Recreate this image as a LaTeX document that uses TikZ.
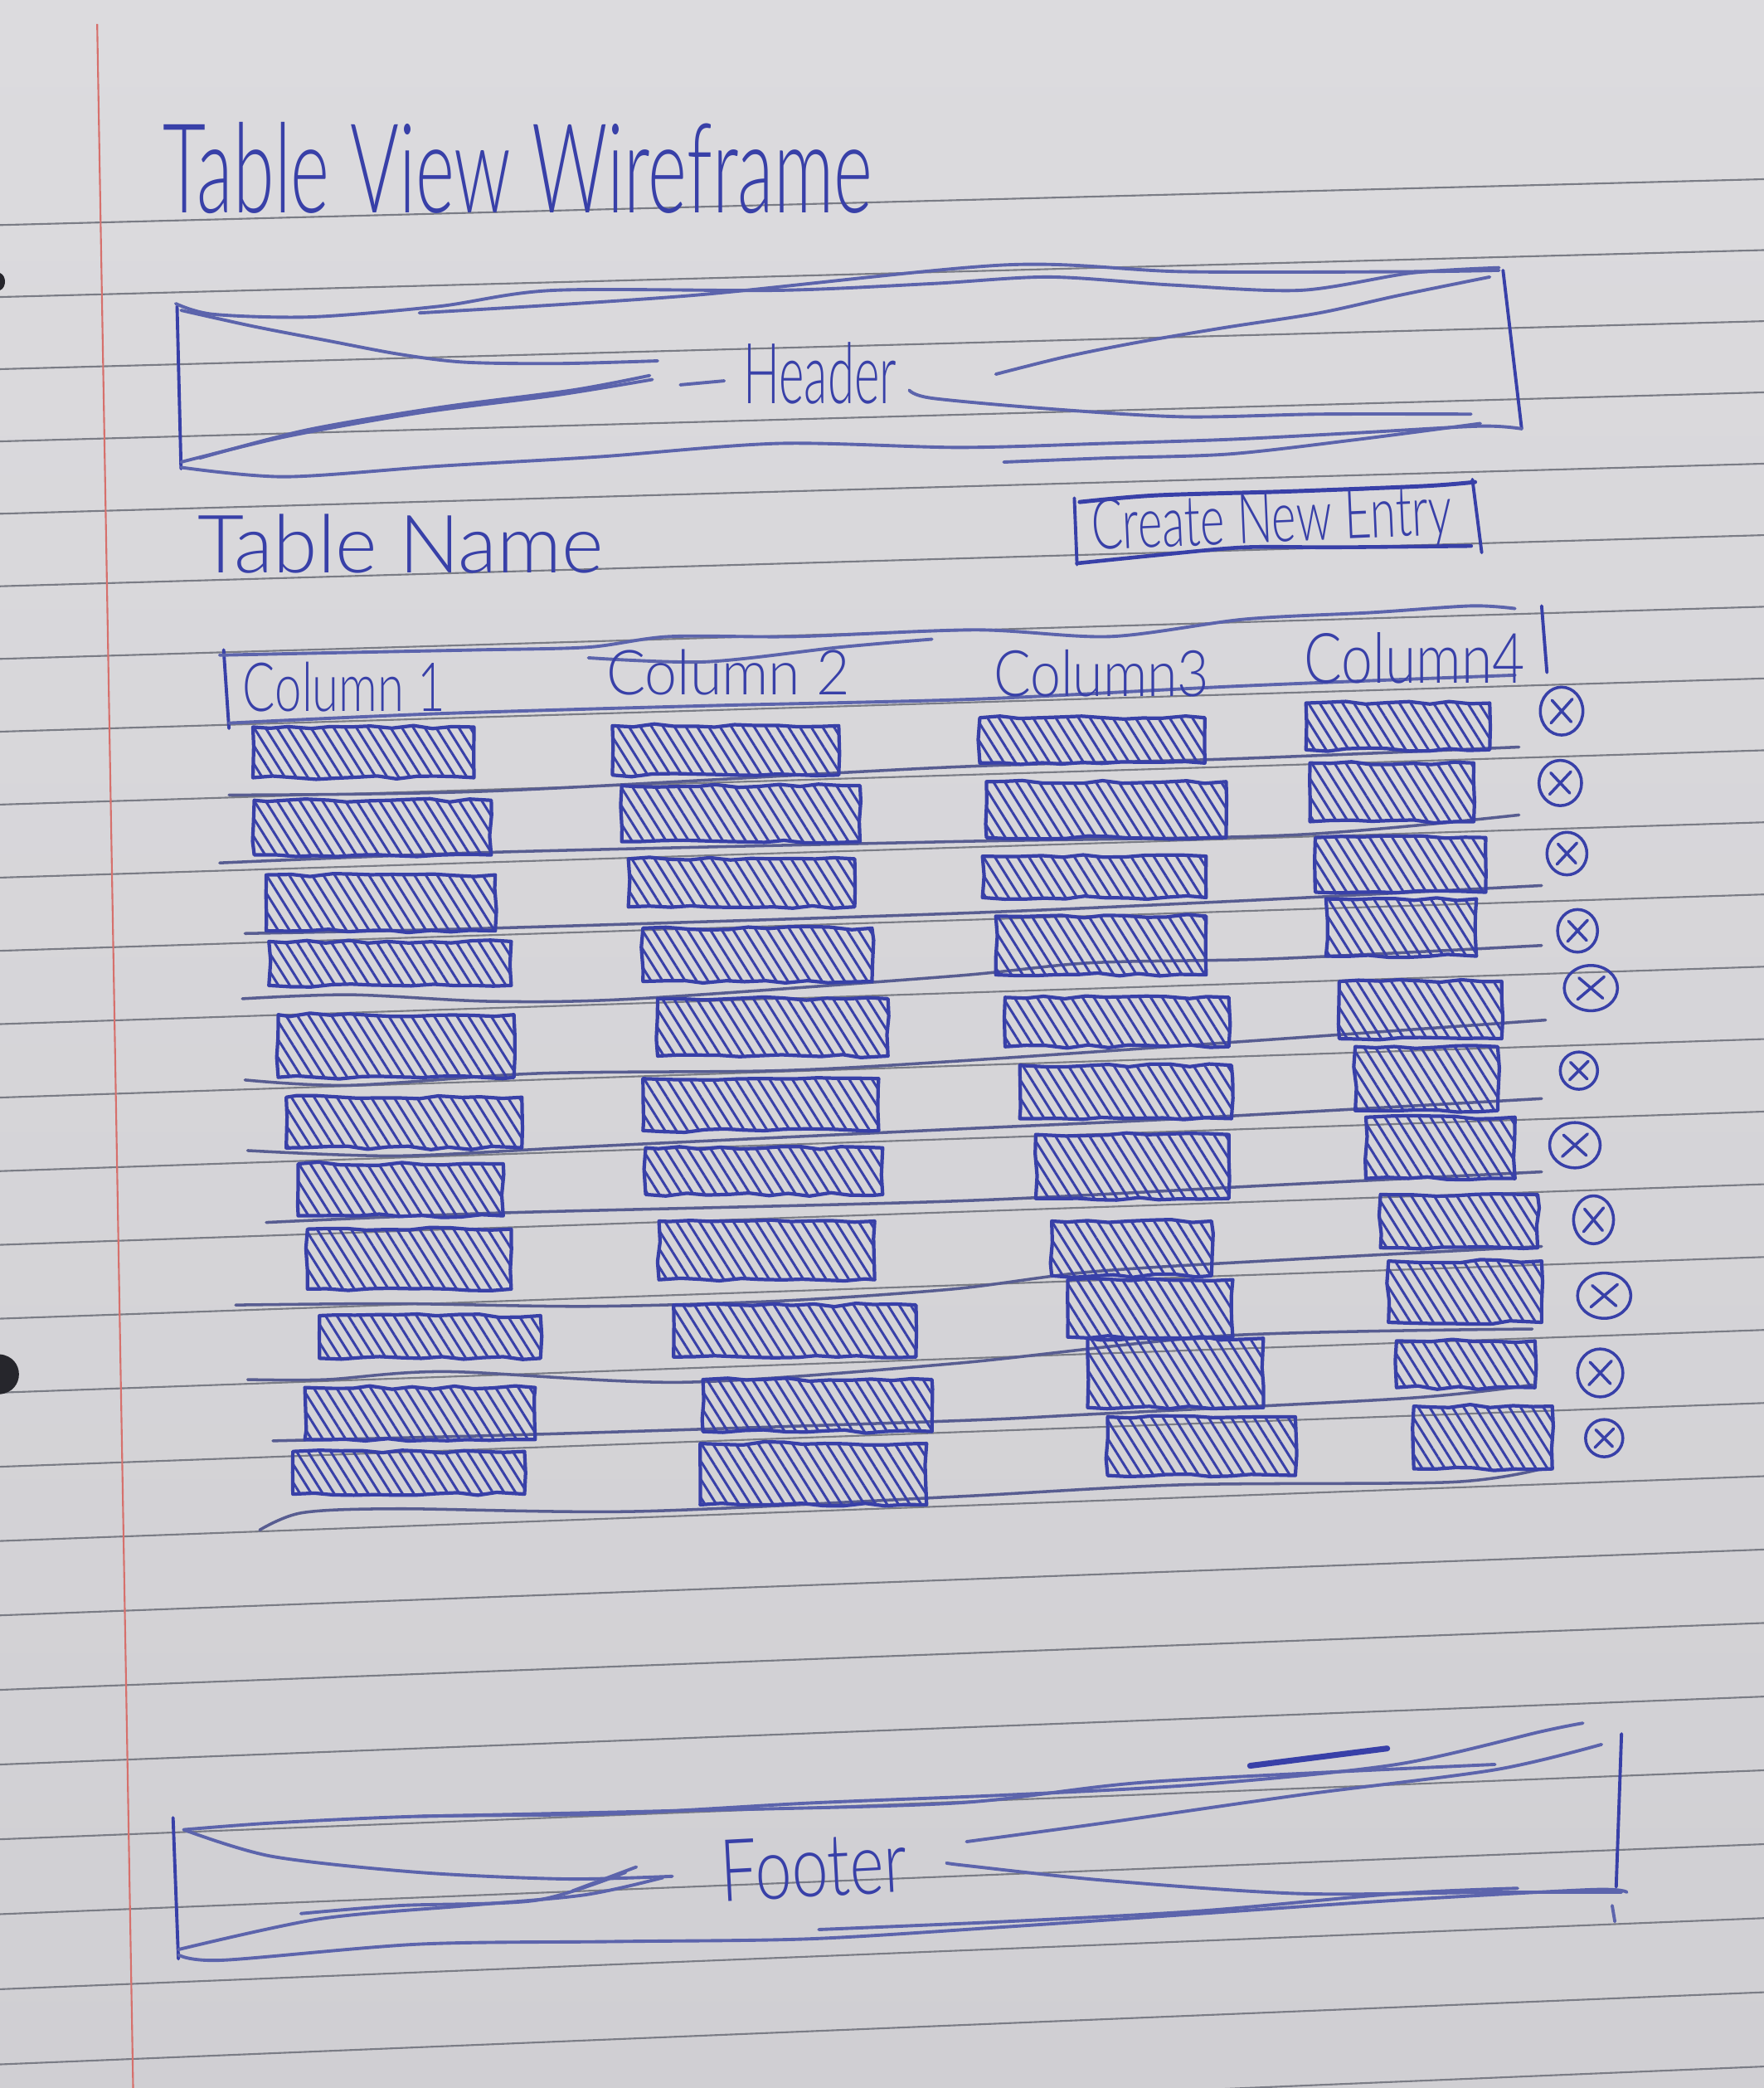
\documentclass[tikz,border=0pt]{standalone}
\usepackage{fontspec}
\usepackage{graphicx}
\IfFontExistsTF{Lato Light}
  {\newfontfamily\hand{Lato Light}}
  {\IfFontExistsTF{Poppins Light}{\newfontfamily\hand{Poppins Light}}{\newfontfamily\hand{Carlito}}}
\usetikzlibrary{patterns.meta,decorations.pathmorphing}
\definecolor{papertop}{RGB}{220,219,222}
\definecolor{paperbot}{RGB}{208,207,211}
\definecolor{rulec}{RGB}{122,124,133}
\definecolor{marginc}{RGB}{214,112,108}
\definecolor{inkc}{RGB}{56,64,168}
\definecolor{inklc}{RGB}{92,100,172}
\definecolor{sepc}{RGB}{88,93,145}
\definecolor{holec}{RGB}{38,38,44}
\newlength\ulen
\setlength\ulen{0.16mm}
\tikzset{
  ruleline/.style={draw=rulec, line width=0.6pt},
  marginline/.style={draw=marginc, line width=0.6pt},
  pen/.style={draw=inkc, line width=1.1pt, line cap=round, line join=round},
  penlight/.style={draw=inklc, line width=1.1pt, line cap=round, line join=round},
  sepline/.style={draw=sepc, line width=1pt, line cap=round, line join=round},
  hatchbar/.style={pen, line width=1.2pt,
    pattern={Lines[angle=-58, distance=3.3pt, line width=0.85pt]}, pattern color=inkc,
    decorate, decoration={random steps, segment length=7pt, amplitude=0.6pt}},
  label/.style={anchor=base west, inner sep=0pt, text=inkc},
  delmark/.style={pen, line width=1pt},
}
% one hatched placeholder bar of the table
\newcommand\databar[4]{\path[hatchbar] (#1,#2) rectangle (#3,#4);}
% handwritten text squeezed to a given width and height
\newcommand\hw[3]{\resizebox{#1\ulen}{#2\ulen}{\hand #3}}

\begin{document}
\begin{tikzpicture}[x=0.16mm, y=-0.16mm]
\pgfmathsetseed{12}
\useasboundingbox (0,0) rectangle (1325,1568);

% ---- sheet of ruled paper ----
\shade[top color=papertop, bottom color=paperbot] (0,0) rectangle (1325,1568);
\foreach \k in {0,...,26}{
  \pgfmathsetmacro\yl{169+54*\k+0.05*\k*\k}
  \pgfmathsetmacro\yr{\yl-(0.026+0.0006*\k)*1325}
  \draw[ruleline] (0,\yl) -- (1325,\yr);
}
\draw[marginline] (73,18) -- (100,1568);
\fill[holec] (0,205) .. controls (5,207) and (5,216) .. (0,218) -- cycle;
\fill[holec] (0,1017) .. controls (19,1019) and (19,1045) .. (0,1047) -- cycle;

% ---- title ----
\node[label] (title) at (122,160) {\hw{533}{68}{Table View Wireframe}};

% ---- header block ----
\draw[pen] (133,230) -- (136,352);
\draw[pen] (1129,203) -- (1143,322);
\draw[penlight] plot[smooth] coordinates {(132,228) (160,236) (234,238) (330,230) (416,218) (585,218) (700,213) (788,208) (880,214) (977,218) (1060,205) (1126,201)};
\draw[penlight] plot[smooth] coordinates {(315,235) (518,222) (754,199) (889,204) (1058,204) (1126,203)};
\draw[penlight] plot[smooth] coordinates {(136,351) (214,358) (330,350) (450,343) (585,333) (720,336) (830,333) (923,330) (1020,325) (1112,320) (1143,322)};
\draw[penlight] plot[smooth] coordinates {(754,347) (830,344) (923,341) (1020,330) (1112,318)};
\draw[penlight] plot[smooth] coordinates {(136,233) (190,245) (247,256) (300,266) (349,272) (420,273) (494,271)};
\draw[penlight] plot[smooth] coordinates {(136,347) (214,328) (315,310) (416,297) (490,285)};
\draw[penlight] plot[smooth] coordinates {(150,344) (230,323) (330,306) (430,293) (488,282)};
\draw[penlight] (511,289) -- (544,286);
\draw[penlight] plot[smooth] coordinates {(1119,208) (1050,222) (991,235) (920,246) (855,257) (800,268) (748,281)};
\draw[penlight] plot[smooth] coordinates {(683,293) (700,299) (788,307) (889,313) (991,311) (1105,311)};
\node[label] (headerlabel) at (558,303) {\hw{115}{46}{Header}};

% ---- table name and button ----
\node[label] (tablename) at (148,430) {\hw{305}{44}{Table Name}};
\draw[pen] (807,374) -- (809,424);
\draw[pen] (1106,360) -- (1113,415);
\draw[pen, line width=1.4pt] plot[smooth] coordinates {(811,377) (868,372) (969,369) (1070,365) (1108,362)};
\draw[pen, line width=1.3pt] plot[smooth] coordinates {(809,423) (868,417) (935,411) (1003,411) (1105,410)};
\node[label, rotate=2.5] (newentry) at (820,413) {\hw{271}{38}{Create New Entry}};

% ---- column header row ----
\draw[pen] (168,488) -- (172,547);
\draw[pen] (1158,455) -- (1162,505);
\draw[penlight] plot[smooth] coordinates {(165,492) (260,490) (360,488) (442,486) (503,478) (598,478) (733,473) (834,478) (935,465) (1030,460) (1105,455) (1138,457)};
\draw[penlight] plot[smooth] coordinates {(442,494) (530,497) (631,486) (700,480)};
\draw[penlight] plot[smooth] coordinates {(172,543) (327,536) (530,530) (733,525) (935,515) (1138,507)};
\node[label] (col1) at (182,534) {\hw{152}{37}{Column 1}};
\node[label] (col2) at (455,522) {\hw{183}{34}{Column 2}};
\node[label] (col3) at (746,523) {\hw{162}{35}{Column3}};
\node[label] (col4) at (979,513) {\hw{166}{38}{Column4}};

% ---- row separators ----
\draw[sepline] plot[smooth] coordinates {(172,597) (370,594) (716,576) (921,570) (1141,561)};
\draw[sepline] plot[smooth] coordinates {(165,648) (370,640) (716,632) (972,627) (1141,612)};
\draw[sepline] plot[smooth] coordinates {(184,701) (370,697) (716,686) (921,677) (1158,665)};
\draw[sepline] plot[smooth] coordinates {(182,750) (263,747) (370,752) (478,750) (716,733) (820,723) (956,720) (1158,710)};
\draw[sepline] plot[smooth] coordinates {(184,811) (263,815) (406,806) (585,804) (716,797) (921,783) (1161,766)};
\draw[sepline] plot[smooth] coordinates {(186,864) (299,868) (442,861) (716,848) (888,840) (1158,825)};
\draw[sepline] plot[smooth] coordinates {(200,918) (370,911) (716,902) (956,890) (1158,880)};
\draw[sepline] plot[smooth] coordinates {(177,980) (299,979) (442,981) (585,977) (716,968) (820,955) (966,946) (1158,936)};
\draw[sepline] plot[smooth] coordinates {(186,1036) (245,1036) (335,1030) (513,1038) (716,1024) (921,1003) (1151,998)};
\draw[sepline] plot[smooth] coordinates {(205,1082) (406,1077) (716,1067) (820,1062) (1057,1050) (1151,1040)};
\draw[sepline] plot[smooth] coordinates {(195,1149) (227,1136) (299,1133) (478,1135) (716,1124) (888,1115) (1090,1113) (1158,1103)};

% ---- hatched data bars ----
\foreach \a/\b/\c/\d in {
  190/546/356/584, 191/601/369/642, 200/657/372/699, 202/707/384/740,
  209/762/386/809, 215/824/392/862, 224/874/378/913, 231/923/384/968,
  240/988/406/1020, 229/1042/402/1081, 220/1090/394/1122,
  460/545/630/582, 467/590/646/632, 472/645/642/681, 483/697/655/737,
  494/750/667/793, 483/810/660/849, 485/862/663/897, 495/917/657/961,
  506/980/688/1019, 528/1036/700/1075, 526/1084/696/1130,
  736/539/905/573, 741/587/921/629, 738/643/906/674, 748/688/906/732,
  755/749/923/786, 766/800/925/840, 778/852/923/900, 790/917/910/958,
  802/961/926/1004, 817/1005/949/1057, 832/1064/973/1108,
  981/528/1119/563, 984/573/1107/617, 988/629/1116/670, 996/675/1109/718,
  1006/737/1128/780, 1018/786/1125/834, 1026/839/1138/885, 1037/897/1155/937,
  1043/947/1158/993, 1049/1007/1153/1042, 1062/1056/1166/1103}
  {\databar{\a}{\b}{\c}{\d}}

% ---- delete marks ----
\foreach \cx/\cy/\rx/\ry [count=\i] in {
  1173/534/16/18, 1172/588/16/17, 1177/641/15/16, 1185/699/15/16,
  1195/742/20/17, 1186/804/14/14, 1183/860/19/17, 1197/916/15/18,
  1205/973/20/17, 1202/1031/17/18, 1205/1080/14/14}{
  \coordinate (del\i) at (\cx,\cy);
  \draw[delmark] (del\i) ellipse [x radius=\rx, y radius=\ry];
  \draw[delmark] ([shift={(-0.5*\rx,0.5*\ry)}]del\i) -- ([shift={(0.5*\rx,-0.5*\ry)}]del\i);
  \draw[delmark] ([shift={(-0.45*\rx,-0.45*\ry)}]del\i) -- ([shift={(0.45*\rx,0.45*\ry)}]del\i);
}

% ---- footer block ----
\draw[pen] (130,1365) -- (134,1471);
\draw[pen] (1218,1302) -- (1214,1417);
\draw[penlight] (1211,1431) -- (1213,1443);
\draw[penlight] plot[smooth] coordinates {(138,1374) (204,1369) (314,1364) (461,1362) (608,1354) (755,1348) (902,1340) (1049,1325) (1159,1300) (1189,1294)};
\draw[penlight] plot[smooth] coordinates {(314,1364) (498,1360) (718,1354) (865,1338) (1123,1325)};
\draw[pen, line width=2pt] (939,1326) -- (1042,1313);
\draw[penlight] plot[smooth] coordinates {(134,1468) (167,1472) (314,1460) (461,1458) (608,1456) (755,1447) (902,1437) (1049,1427) (1196,1419) (1222,1421)};
\draw[penlight] plot[smooth] coordinates {(615,1449) (755,1443) (902,1435) (1049,1422) (1140,1418)};
\draw[penlight] plot[smooth] coordinates {(138,1374) (204,1394) (314,1406) (424,1411) (505,1409)};
\draw[penlight] plot[smooth] coordinates {(134,1464) (240,1441) (351,1431) (439,1423) (498,1410)};
\draw[penlight] plot[smooth] coordinates {(226,1437) (300,1431) (403,1427) (470,1406)};
\draw[penlight] (430,1420) -- (478,1402);
\draw[penlight] plot[smooth] coordinates {(1203,1310) (1123,1329) (976,1348) (829,1369) (726,1383)};
\draw[penlight] plot[smooth] coordinates {(1218,1421) (1123,1421) (976,1422) (829,1412) (726,1401) (711,1399)};
\node[label, rotate=3] (footerlabel) at (542,1428) {\hw{140}{46}{Footer}};
\end{tikzpicture}
\end{document}
